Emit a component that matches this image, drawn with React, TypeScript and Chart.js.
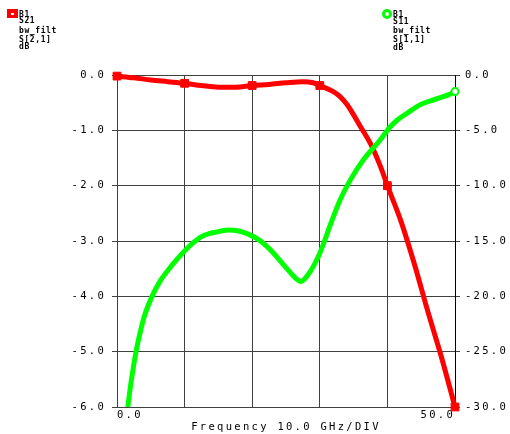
import React, { useEffect, useRef } from "react";
import { Chart, registerables } from "chart.js";

Chart.register(...registerables);

// S21 (left axis, dB)
const freqS21 = [0, 2.5, 5, 7.5, 10, 12.5, 15, 17.5, 20, 22.5, 25, 27.5, 29, 30, 32, 33, 34, 35, 36, 37.5, 39, 40, 42, 44, 46, 48, 50];
const s21 = [-0.02, -0.05, -0.09, -0.12, -0.15, -0.19, -0.22, -0.22, -0.19, -0.17, -0.14, -0.12, -0.14, -0.19, -0.3, -0.39, -0.53, -0.72, -0.93, -1.24, -1.66, -2.0, -2.64, -3.42, -4.28, -5.1, -6.0];
const s21MarkerFreqs = [0, 10, 20, 30, 40, 50];

// S11 (right axis, dB)
const freqS11 = [1.6, 2.0, 2.45, 2.8, 3.3, 4.05, 5.15, 6.35, 7.6, 8.8, 10, 11.2, 12.5, 13.8, 15, 16.5, 18, 19.5, 21, 22, 23, 24, 25, 26, 26.7, 27.2, 27.8, 28.6, 29.3, 30, 30.7, 31.4, 32.2, 33, 34.5, 36.4, 38.9, 40.4, 41.6, 42.9, 44.8, 46.3, 47.8, 49, 50];
const s11 = [-30, -28.1, -26.3, -25.05, -23.6, -21.8, -20.05, -18.65, -17.6, -16.7, -15.9, -15.2, -14.6, -14.3, -14.15, -14.0, -14.1, -14.4, -14.9, -15.4, -16.0, -16.7, -17.4, -18.1, -18.5, -18.65, -18.4, -17.75, -17.0, -16.1, -15.0, -13.8, -12.5, -11.3, -9.5, -7.7, -5.9, -4.7, -4.0, -3.46, -2.7, -2.35, -2.05, -1.8, -1.5];
const s11MarkerFreqs = [50];

const xTitle = "Frequency 10.0 GHz/DIV";
const xTickLabels = ["0.0", "50.0"];
const legendS21 = ["B1", "S21", "bw_filt", "S[2,1]", "dB"];
const legendS11 = ["B1", "S11", "bw_filt", "S[1,1]", "dB"];

const leftTops = [10.5, 16.5, 26.5, 35.5, 42.5];
const rightTops = [10.5, 17.5, 27, 35.5, 43.5];

const FONT = "'DejaVu Sans Mono', monospace";
const GRID = "#404040";

export default function App() {
  const ref = useRef<HTMLCanvasElement>(null);

  useEffect(() => {
    const canvas = ref.current!;
    const spacing = {
      id: "spacing",
      beforeDraw(c: any) {
        c.ctx.letterSpacing = "2.3px";
      },
    };
    const tickFont = { family: FONT, size: 10.5 };
    const chart = new Chart(canvas, {
      type: "line",
      data: {
        datasets: [
          {
            label: "S11",
            data: freqS11.map((f, i) => ({ x: f, y: s11[i] })),
            yAxisID: "y2",
            borderColor: "#00ff00",
            borderWidth: 5,
            pointRadius: freqS11.map((f) => (s11MarkerFreqs.includes(f) ? 3.5 : 0)),
            pointBackgroundColor: "#ffffff",
            pointBorderColor: "#00ff00",
            pointBorderWidth: 2,
            cubicInterpolationMode: "monotone",
            order: 0,
            clip: false as any,
          },
          {
            label: "S21",
            data: freqS21.map((f, i) => ({ x: f, y: s21[i] })),
            yAxisID: "y",
            borderColor: "#ff0000",
            borderWidth: 5,
            pointStyle: "rect",
            pointRadius: freqS21.map((f) => (s21MarkerFreqs.includes(f) ? 5.5 : 0)),
            pointBackgroundColor: "#ff0000",
            pointBorderColor: "#ff0000",
            pointBorderWidth: 1,
            cubicInterpolationMode: "monotone",
            order: 1,
            clip: false as any,
          },
        ],
      },
      options: {
        animation: false,
        responsive: false,
        maintainAspectRatio: false,
        layout: { padding: { top: 75, left: 0, right: 0, bottom: 0 } },
        plugins: { legend: { display: false }, tooltip: { enabled: false } },
        scales: {
          x: {
            type: "linear",
            min: 0,
            max: 50,
            ticks: {
              stepSize: 10,
              align: "inner",
              autoSkip: false,
              maxRotation: 0,
              color: "#000",
              font: tickFont,
              padding: 2,
              callback: (v: any) =>
                v === 0 ? xTickLabels[0] : v === 50 ? xTickLabels[1] : "",
            },
            grid: { color: GRID, lineWidth: 1, drawTicks: false },
            border: { color: GRID, width: 1 },
            title: {
              display: true,
              text: xTitle,
              color: "#000",
              font: tickFont,
              padding: { top: 0, bottom: 0 },
            },
            afterFit: (s: any) => {
              s.height = 27;
            },
          },
          y: {
            position: "left",
            min: -6,
            max: 0,
            ticks: {
              stepSize: 1,
              color: "#000",
              font: tickFont,
              padding: 6,
              callback: (v: any) => Number(v).toFixed(1),
            },
            grid: { color: GRID, lineWidth: 1, tickLength: 5 },
            border: { color: GRID, width: 1 },
            afterFit: (s: any) => {
              s.width = 117;
            },
          },
          y2: {
            position: "right",
            min: -30,
            max: 0,
            ticks: {
              stepSize: 5,
              color: "#000",
              font: tickFont,
              padding: 5,
              callback: (v: any) => Number(v).toFixed(1),
            },
            grid: { drawOnChartArea: false, color: GRID, lineWidth: 1, tickLength: 5 },
            border: { color: "#000", width: 1 },
            afterFit: (s: any) => {
              s.width = 55;
            },
          },
        },
      } as any,
      plugins: [spacing],
    });
    return () => chart.destroy();
  }, []);

  const textStyle: React.CSSProperties = {
    position: "absolute",
    fontFamily: FONT,
    fontWeight: "bold",
    fontSize: 8,
    lineHeight: "8px",
    letterSpacing: "0.6px",
    color: "#000",
    whiteSpace: "pre",
  };

  return (
    <div style={{ position: "absolute", left: 0, top: 0, width: 510, height: 434, background: "#fff" }}>
      <canvas ref={ref} width={510} height={434} style={{ display: "block", width: 510, height: 434 }} />
      <div style={{ position: "absolute", left: 7, top: 9, width: 11, height: 9, background: "#ff0000" }}>
        <div style={{ position: "absolute", left: 4, top: 4, width: 3, height: 2, background: "#fff" }} />
      </div>
      {legendS21.map((t, i) => (
        <div key={"l" + i} style={{ ...textStyle, left: 19, top: leftTops[i] }}>{t}</div>
      ))}
      <div
        style={{
          position: "absolute",
          left: 382,
          top: 9,
          width: 10,
          height: 10,
          borderRadius: "50%",
          boxSizing: "border-box",
          border: "3px solid #00ff00",
          background: "#fff",
        }}
      />
      {legendS11.map((t, i) => (
        <div key={"r" + i} style={{ ...textStyle, left: 393, top: rightTops[i] }}>{t}</div>
      ))}
    </div>
  );
}
